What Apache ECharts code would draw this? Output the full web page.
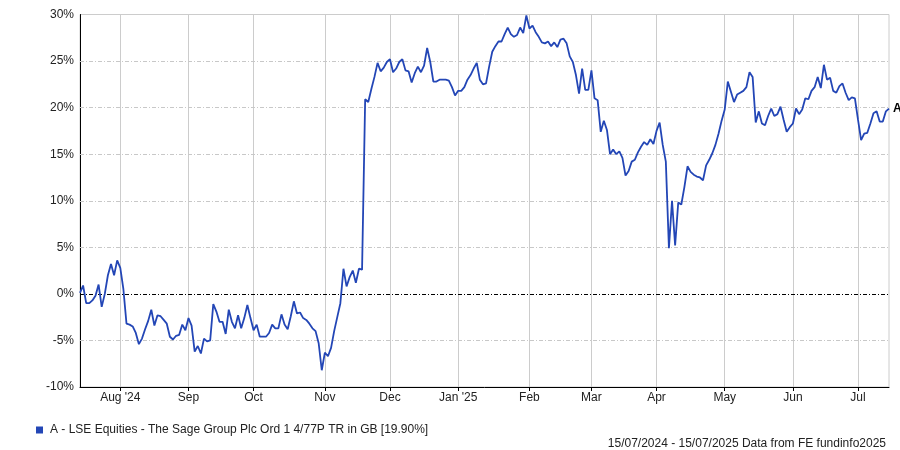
<!DOCTYPE html>
<html>
<head>
<meta charset="utf-8">
<script src="https://cdn.jsdelivr.net/npm/echarts@6/dist/echarts.min.js"></script>
<style>
html,body{margin:0;padding:0;background:#fff;}
#chart{width:900px;height:450px;}
</style>
</head>
<body>
<div id="chart"></div>
<script>
// Category range: weekdays 15/07/2024 .. 15/07/2025
const startDate = "2024-07-15";
const endDate = "2025-07-15";
// Month tick labels (Aug 2024 .. Jul 2025)
const tickLabels = ["Aug '24","Sep","Oct","Nov","Dec","Jan '25","Feb","Mar","Apr","May","Jun","Jul"];
const yTicks = [-10, -5, 0, 5, 10, 15, 20, 25, 30];
const seriesName = "A - LSE Equities - The Sage Group Plc Ord 1 4/77P TR in GB [19.90%]";
const footerText = "15/07/2024 - 15/07/2025 Data from FE fundinfo2025";
// Cumulative total return, % (one value per weekday)
const values = [
 0.1, 0.9, -1.0, -1.0, -0.7, -0.2, 1.0, -1.4, 0.0, 2.0,
 3.2, 2.0, 3.6, 2.8, 0.5, -3.2, -3.3, -3.5, -4.2, -5.4,
 -4.8, -3.8, -2.9, -1.7, -3.4, -2.3, -2.4, -2.8, -3.2, -4.6,
 -4.9, -4.5, -4.4, -3.3, -3.9, -2.6, -3.4, -6.2, -5.6, -6.4,
 -4.8, -5.1, -5.0, -1.1, -1.9, -3.0, -3.0, -4.3, -1.7, -3.0,
 -3.7, -2.3, -3.7, -2.6, -1.2, -2.6, -3.9, -3.3, -4.6, -4.6,
 -4.6, -4.2, -3.3, -3.7, -3.7, -2.2, -3.3, -3.8, -2.4, -0.8,
 -2.1, -2.0, -2.6, -2.8, -3.2, -3.7, -4.0, -5.3, -8.2, -6.3,
 -6.7, -5.8, -4.0, -2.5, -1.0, 2.7, 0.8, 1.8, 2.5, 1.2,
 2.7, 2.6, 20.9, 20.6, 22.0, 23.3, 24.8, 23.9, 24.3, 24.9,
 25.2, 23.8, 24.2, 24.9, 25.2, 24.0, 23.9, 22.7, 23.7, 24.4,
 23.8, 24.5, 26.4, 24.9, 22.8, 22.8, 23.0, 23.0, 23.0, 22.9,
 22.2, 21.3, 21.8, 21.8, 22.2, 23.0, 23.5, 24.2, 24.8, 23.0,
 22.5, 22.6, 24.4, 26.0, 26.6, 27.1, 27.1, 27.9, 28.6, 27.9,
 27.6, 27.8, 28.6, 28.0, 29.9, 28.5, 28.8, 28.1, 27.6, 27.0,
 26.9, 27.1, 26.6, 27.0, 26.5, 27.3, 27.4, 26.9, 25.5, 24.9,
 23.5, 21.5, 24.2, 21.9, 21.9, 24.0, 21.0, 20.8, 17.4, 18.6,
 17.6, 15.0, 15.5, 15.0, 15.3, 14.6, 12.7, 13.2, 14.2, 14.4,
 15.2, 15.8, 16.3, 16.0, 16.6, 16.1, 17.5, 18.4, 16.0, 14.2,
 4.9, 10.0, 5.2, 9.8, 9.6, 11.5, 13.7, 13.1, 12.8, 12.6,
 12.5, 12.2, 13.8, 14.4, 15.1, 16.0, 17.2, 18.6, 19.8, 22.8,
 21.7, 20.6, 21.4, 21.6, 21.8, 22.2, 23.8, 23.3, 18.4, 19.6,
 18.3, 18.1, 19.1, 19.9, 19.1, 19.3, 20.1, 18.7, 17.4, 17.9,
 18.3, 19.9, 19.3, 19.8, 21.0, 20.9, 21.8, 22.2, 23.3, 22.1,
 24.6, 23.0, 23.2, 21.8, 21.6, 22.3, 22.6, 21.6, 20.8, 21.1,
 21.0, 18.7, 16.5, 17.2, 17.3, 18.3, 19.4, 19.6, 18.5, 18.5,
 19.6, 19.9
];

// Build weekday categories
const dates = [];
(function(){
  const d = new Date(startDate + "T00:00:00Z");
  const e = new Date(endDate + "T00:00:00Z");
  while (d <= e) {
    const wd = d.getUTCDay();
    if (wd !== 0 && wd !== 6) dates.push(d.toISOString().slice(0,10));
    d.setUTCDate(d.getUTCDate() + 1);
  }
})();
// first weekday of each month (excluding the start month)
const monthStart = {};
dates.forEach((s, i) => {
  const key = s.slice(0,7);
  if (i > 0 && key !== dates[i-1].slice(0,7)) monthStart[i] = true;
});
let mCount = 0;
const labelFor = {};
Object.keys(monthStart).map(Number).sort((a,b)=>a-b).forEach(i => { labelFor[i] = tickLabels[mCount++]; });
const isMonth = (idx) => !!monthStart[idx];

// horizontal reference lines (inner ticks gray, zero black)
const hLines = yTicks.filter(v => v !== yTicks[0] && v !== yTicks[yTicks.length-1]).map(v => ({
  yAxis: v,
  lineStyle: v === 0
    ? { color: '#000000', width: 1, type: [4, 2, 1, 2] }
    : { color: '#c8c8c8', width: 1, type: [4, 2, 1, 2] }
}));

const FONT = "'Liberation Sans', Arial, sans-serif";
const chart = echarts.init(document.getElementById('chart'), null, {renderer: 'canvas'});
chart.setOption({
  animation: false,
  backgroundColor: '#fff',
  textStyle: { fontFamily: FONT },
  grid: { left: 80, right: 11, top: 14.5, bottom: 63, show: true, borderColor: '#cccccc', borderWidth: 1 },
  legend: {
    show: true, left: 31, top: 419, icon: 'rect', itemWidth: 7, itemHeight: 7,
    textStyle: { fontFamily: FONT, fontSize: 12, color: '#222', padding: [0,0,0,2] },
    data: [seriesName]
  },
  graphic: [{
    type: 'text', right: 14, top: 438,
    style: { text: footerText, font: "12px " + FONT, fill: '#222' }
  }],
  xAxis: {
    type: 'category',
    data: dates,
    boundaryGap: false,
    axisLine: { show: true, onZero: false, lineStyle: { color: '#000', width: 1 } },
    axisTick: { show: true, interval: isMonth, length: 4, lineStyle: { color: '#000' } },
    axisLabel: { interval: isMonth, formatter: (v, i) => labelFor[i] || '', fontSize: 12, color: '#222', margin: 5, fontFamily: FONT },
    splitLine: { show: true, interval: isMonth, lineStyle: { color: '#cccccc', width: 1, type: 'solid' } }
  },
  yAxis: {
    type: 'value',
    min: yTicks[0], max: yTicks[yTicks.length-1], interval: 5,
    axisLine: { show: true, lineStyle: { color: '#000', width: 1 } },
    axisTick: { show: false },
    axisLabel: { formatter: '{value}%', fontSize: 12, color: '#222', margin: 6, fontFamily: FONT },
    splitLine: { show: false }
  },
  series: [{
    name: seriesName,
    type: 'line',
    data: values,
    showSymbol: false,
    symbol: 'none',
    color: '#2346b6',
    lineStyle: { color: '#2346b6', width: 1.8 },
    endLabel: { show: true, formatter: 'A', fontWeight: 'bold', fontSize: 12, color: '#000', distance: 4, fontFamily: FONT },
    markLine: {
      silent: true, symbol: 'none', label: { show: false },
      data: hLines,
      z: 1
    },
    z: 3
  }]
});
</script>
</body>
</html>
